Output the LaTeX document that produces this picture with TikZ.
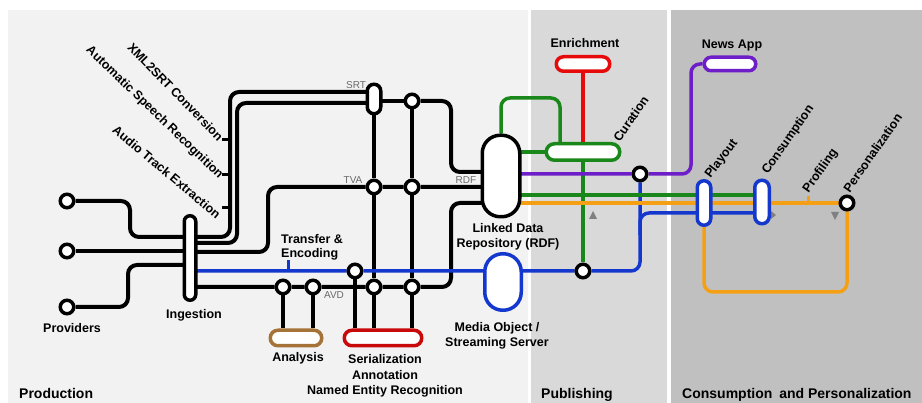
\documentclass[tikz,border=0pt]{standalone}
\usepackage{fontspec}
\setmainfont{Liberation Sans}
\pgfdeclarelayer{bg}
\pgfdeclarelayer{lines}
\pgfsetlayers{bg,lines,main}
\definecolor{regA}{RGB}{242,242,242}
\definecolor{regB}{RGB}{217,217,217}
\definecolor{regC}{RGB}{192,192,192}
\definecolor{lblue}{RGB}{20,55,205}
\definecolor{lgreen}{RGB}{25,135,25}
\definecolor{lred}{RGB}{230,10,10}
\definecolor{dred}{RGB}{200,10,10}
\definecolor{lpurple}{RGB}{110,30,200}
\definecolor{lorange}{RGB}{245,160,20}
\definecolor{lbrown}{RGB}{165,115,55}
\definecolor{lgray}{RGB}{105,105,105}
\definecolor{trig}{RGB}{128,128,128}
\begin{document}
\begin{tikzpicture}[x=1pt,y=-1pt,
  stn/.style={circle,draw=black,fill=white,line width=3.5pt,minimum size=13.5pt,inner sep=0pt},
  pill/.style={draw,fill=white,line width=3.5pt,inner sep=0pt},
  blk/.style={line width=4pt,black,rounded corners=9pt},
  col/.style={line width=3.5pt,rounded corners=9pt},
  lbl/.style={font=\fontsize{12.5}{15.5}\selectfont\bfseries,inner sep=0pt,align=center},
  rlbl/.style={font=\fontsize{12.5}{15}\selectfont\bfseries,inner sep=0pt},
  small/.style={font=\fontsize{10}{12}\selectfont,text=lgray,inner sep=0pt},
  region/.style={font=\fontsize{14}{16}\selectfont\bfseries,inner sep=0pt,anchor=base west},
  tickl/.style={line width=3pt},
]
\useasboundingbox (0,0) rectangle (922,403);
\begin{pgfonlayer}{bg}
\fill[white] (0,0) rectangle (922,403);
\fill[regA] (8,10) rectangle (528,403);
\fill[regB] (531,10) rectangle (667,403);
\fill[regC] (671,10) rectangle (922,403);
\end{pgfonlayer}

% stations
\node[stn] (p1) at (67,201) {};
\node[stn] (p2) at (67,251) {};
\node[stn] (p3) at (67,307) {};
\node[stn] (srt2) at (412,101) {};
\node[stn] (tva1) at (374,187) {};
\node[stn] (tva2) at (412,187) {};
\node[stn] (te) at (355,271) {};
\node[stn] (an1) at (283,287) {};
\node[stn] (an2) at (313,287) {};
\node[stn] (avd1) at (374,287) {};
\node[stn] (avd2) at (412,287) {};
\node[stn] (pub1) at (583,271) {};
\node[stn] (pd) at (640,174) {};
\node[stn] (pers) at (847,203) {};

% pills
\node[pill,minimum width=11.5pt,minimum height=84.5pt,rounded corners=5.7pt] (ing) at (190,258) {};
\node[pill,minimum width=13.5pt,minimum height=29.5pt,rounded corners=6.7pt] (srt) at (374,99) {};
\node[pill,minimum width=37.5pt,minimum height=81.5pt,rounded corners=18pt] (ld) at (501,176) {};
\node[pill,draw=lblue,minimum width=36.5pt,minimum height=56.5pt,rounded corners=18pt] (mo) at (503,282) {};
\node[pill,draw=lbrown,minimum width=51.5pt,minimum height=15.5pt,rounded corners=7.7pt] (an) at (296,338) {};
\node[pill,draw=dred,minimum width=77.5pt,minimum height=15.5pt,rounded corners=7.7pt] (ser) at (383,338) {};
\node[pill,draw=lgreen,minimum width=73.5pt,minimum height=16.5pt,rounded corners=8.2pt] (cur) at (583,152) {};
\node[pill,draw=lred,minimum width=53.5pt,minimum height=14.5pt,rounded corners=7.2pt] (enr) at (583,64) {};
\node[pill,draw=lpurple,minimum width=51.5pt,minimum height=13.5pt,rounded corners=6.7pt] (news) at (730,64) {};
\node[pill,draw=lblue,minimum width=13.5pt,minimum height=44.5pt,rounded corners=6.7pt] (play) at (704,203) {};
\node[pill,draw=lblue,minimum width=14.5pt,minimum height=43.5pt,rounded corners=7.2pt] (cons) at (762,202) {};

% free-end coordinates
\coordinate (tk1) at (222,140);
\coordinate (tk2) at (222,175);
\coordinate (tk3) at (222,208);
\coordinate (tef) at (288,260);
\coordinate (prf) at (808,196);
\coordinate (bj) at (640,235);

\begin{pgfonlayer}{lines}
% providers to ingestion
\draw[blk] (p1) -- (130,201) -- (130,237) -- (ing.center |- 0,237);
\draw[blk] (p2) -- (ing.center |- p2);
\draw[blk] (p3) -- (128,307) -- (128,265) -- (ing.center |- 0,265);
% SRT lines
\draw[blk] (ing.center |- 0,237) -- (230,237) -- (230,92) -- (srt.center |- 0,92);
\draw[blk] (ing.center |- 0,243) -- (237,243) -- (237,103) -- (srt.center |- 0,103);
\draw[tickl] (tk1) -- (230,140);
\draw[tickl] (tk2) -- (230,175);
\draw[tickl] (tk3) -- (230,208);
\draw[blk] (srt.center |- srt2) -- (srt2);
\draw[blk] (srt2) -- (451,101) -- (451,172) -- (ld.center |- 0,172);
% TVA
\draw[blk] (ing.center |- 0,252) -- (268,252) -- (268,187) -- (tva1) -- (tva2) -- (ld.center |- tva2);
% AVD
\draw[blk] (ing.center |- an1) -- (an1) -- (an2) -- (avd1) -- (avd2) -- (451,287) -- (451,203) -- (ld.center |- 0,203);
% verticals
\draw[blk] (srt) -- (tva1) -- (avd1) -- (ser.north -| avd1);
\draw[blk] (srt2) -- (tva2) -- (avd2) -- (ser.north -| avd2);
\draw[blk] (te) -- (ser.north -| te);
\draw[blk] (an1) -- (an.north -| an1);
\draw[blk] (an2) -- (an.north -| an2);
% blue
\draw[col,lblue] (ing.center |- te) -- (te) -- (pub1) -- (640,271) -- (pd);
\draw[col,lblue] (bj) -- (640,213) -- (play.center |- 0,213) -- (cons.center |- 0,213);
\draw[tickl,lblue] (te.center -| tef) -- (tef);
% green and red
\draw[col,lgreen] (ld.north) -- (501,98) -- (560,98) -- (cur.north -| 560,0);
\draw[col,lgreen] (ld.center |- cur) -- (cur);
\draw[col,lgreen] (cur) -- (pub1);
\draw[col,lred] (enr) -- (cur);
\draw[col,lgreen] (ld.center |- 0,195) -- (play.center |- 0,195) -- (cons.center |- 0,195);
% purple
\draw[col,lpurple] (ld.center |- pd) -- (pd) -- (691,174) -- (691,64) -- (news);
% orange
\draw[col,lorange] (ld.center |- pers) -- (pers);
\draw[col,lorange] (play) -- (704,292) -- (847,292) -- (pers);
\draw[tickl,lorange] (pers.center -| prf) -- (prf);
% gray triangles
\fill[trig] (589,219) -- (597,219) -- (593,211) -- cycle;
\fill[trig] (831,212) -- (839,212) -- (835,220) -- cycle;
\fill[trig] (771,211) -- (776,215) -- (771,219) -- cycle;
\end{pgfonlayer}

% labels
\node[lbl] at (72,328) {Providers};
\node[lbl] at (194,315) {Ingestion};
\node[lbl] at (298,358) {Analysis};
\node[lbl] at (385,376) {Serialization\\Annotation\\Named Entity Recognition};
\node[lbl,align=left,anchor=west,font=\fontsize{12.5}{14}\selectfont\bfseries] at (281,247) {Transfer \&\\Encoding};
\node[lbl] at (508,237) {Linked Data\\Repository (RDF)};
\node[lbl] at (497,336) {Media Object /\\Streaming Server};
\node[lbl] at (585,43) {Enrichment};
\node[lbl] at (732,46) {News App};
\node[small] at (356,85) {SRT};
\node[small] at (353,180) {TVA};
\node[small] at (466,180) {RDF};
\node[small] at (334,295) {AVD};
\node[rlbl,rotate=-46,anchor=east] at (221,139) {XML2SRT Conversion};
\node[rlbl,rotate=-44,anchor=east] at (221,177) {Automatic Speech Recognition};
\node[rlbl,rotate=-40,anchor=east] at (219,216) {Audio Track Extraction};
\node[rlbl,rotate=55,anchor=west] at (616,140) {Curation};
\node[rlbl,rotate=53,anchor=west] at (708,177) {Playout};
\node[rlbl,rotate=55,anchor=west] at (765,173) {Consumption};
\node[rlbl,rotate=55,anchor=west] at (806,192) {Profiling};
\node[rlbl,rotate=55,anchor=west] at (846,191) {Personalization};
\node[region] at (19,399) {Production};
\node[region] at (541,399) {Publishing};
\node[region] at (682,399) {Consumption\hspace{3pt} and Personalization};
\end{tikzpicture}
\end{document}
